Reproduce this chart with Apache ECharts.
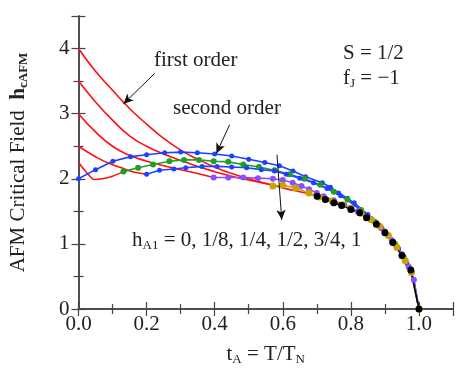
<!DOCTYPE html>
<html><head><meta charset="utf-8">
<script src="https://cdn.jsdelivr.net/npm/echarts@6/dist/echarts.min.js"></script>
<style>html,body{margin:0;padding:0;background:#fff}#c{width:457px;height:381px}</style>
</head><body><div id="c"></div>
<script>
// second-order branches (t_A, h_cAFM), lines with markers
const h0Blue = [[0,2.0],[0.05,2.14],[0.101,2.27],[0.153,2.34],[0.2,2.37],[0.253,2.4],[0.3,2.41],[0.349,2.4],[0.4,2.38],[0.45,2.35],[0.5,2.3],[0.547,2.25],[0.59,2.2],[0.63,2.12],[0.667,2.03],[0.716,1.94],[0.74,1.87],[0.764,1.78],[0.79,1.7],[0.81,1.63],[0.85,1.45],[0.875,1.33],[0.9,1.19],[0.925,1.04],[0.95,0.84],[0.975,0.62],[1.0,0]];
const h18Green = [[0.132,2.11],[0.175,2.17],[0.219,2.22],[0.267,2.27],[0.31,2.29],[0.354,2.29],[0.397,2.27],[0.44,2.26],[0.484,2.22],[0.53,2.18],[0.576,2.13],[0.62,2.07],[0.663,2.0],[0.71,1.91],[0.75,1.8],[0.79,1.68],[0.83,1.52],[0.87,1.34],[0.9,1.19],[0.93,1.0],[0.955,0.8],[0.978,0.58],[1.0,0]];
const h14Blue = [[0.2,2.07],[0.238,2.13],[0.28,2.15],[0.315,2.17],[0.363,2.19],[0.407,2.19],[0.45,2.18],[0.494,2.17],[0.537,2.14],[0.576,2.12],[0.61,2.07],[0.65,2.01],[0.69,1.94],[0.73,1.85],[0.77,1.74],[0.81,1.6],[0.85,1.43],[0.88,1.29],[0.91,1.13],[0.94,0.93],[0.965,0.7],[0.985,0.45],[1.0,0]];
const h12Purple = [[0.397,2.02],[0.44,2.02],[0.484,2.02],[0.527,2.01],[0.571,2.0],[0.6,1.98],[0.629,1.94],[0.655,1.89],[0.677,1.84],[0.7,1.78],[0.72,1.73],[0.75,1.67],[0.78,1.6],[0.82,1.5],[0.86,1.38],[0.89,1.24],[0.92,1.06],[0.95,0.84],[0.97,0.65],[0.985,0.45],[1.0,0]];
const h34Gold = [[0.571,1.89],[0.6,1.9],[0.638,1.86],[0.677,1.78],[0.706,1.72],[0.745,1.66],[0.775,1.6],[0.8,1.55],[0.83,1.47],[0.86,1.37],[0.885,1.27],[0.91,1.13],[0.935,0.95],[0.96,0.74],[0.978,0.56],[1.0,0]];
const h1Black = [[0.701,1.73],[0.725,1.68],[0.75,1.63],[0.773,1.59],[0.8,1.53],[0.826,1.48],[0.846,1.4],[0.875,1.3],[0.9,1.17],[0.923,1.02],[0.95,0.82],[0.976,0.6],[1.0,0]];
// first-order branches (red)
const r18 = [[0,2.25],[0.02,2.12],[0.045,1.99],[0.07,2.0],[0.1,2.04],[0.132,2.11]];
const r14 = [[0,2.5],[0.03,2.4],[0.06,2.31],[0.093,2.23],[0.13,2.16],[0.165,2.1],[0.2,2.07]];
const r12 = [[0,3.0],[0.05,2.72],[0.1,2.5],[0.15,2.36],[0.2,2.27],[0.25,2.2],[0.3,2.14],[0.35,2.08],[0.397,2.02]];
const r34 = [[0,3.5],[0.05,3.18],[0.1,2.9],[0.15,2.66],[0.2,2.5],[0.25,2.38],[0.3,2.28],[0.35,2.19],[0.4,2.11],[0.45,2.04],[0.5,1.98],[0.571,1.9]];
const r1 = [[0,4.0],[0.05,3.65],[0.1,3.36],[0.15,3.08],[0.2,2.84],[0.25,2.62],[0.3,2.44],[0.35,2.3],[0.4,2.18],[0.45,2.08],[0.5,2.0],[0.55,1.93],[0.6,1.86],[0.65,1.8],[0.7,1.74]];
const xTicks = [0,0.2,0.4,0.6,0.8,1.0];
const yTicks = [0,1,2,3,4];

const FF = 'Liberation Serif';
const FS = 21;
const AX = '#444';
const TX = '#222';
const chart = echarts.init(document.getElementById('c'));
function redSeries(d,sm){return {type:'line',data:d,smooth:sm,showSymbol:false,symbol:'none',lineStyle:{color:'#ff1010',width:1.6},z:2,silent:true};}
function ordSeries(d,color,size){return {type:'line',data:d,symbol:'circle',symbolSize:size,itemStyle:{color:color},lineStyle:{color:color,width:1.6},z:3,silent:true};}
const axisCommon = {
  axisLine:{show:true,lineStyle:{color:AX,width:1.5}},
  axisTick:{show:true,inside:true,length:7,lineStyle:{color:AX,width:1.2}},
  minorTick:{show:true,splitNumber:2,length:5,lineStyle:{color:AX,width:1.2}},
  splitLine:{show:false}
};
const arrowLine = (a,b)=>[{coord:a},{coord:b}];
const richN = {fontFamily:FF,fontSize:FS,color:TX};
const richS = {fontFamily:FF,fontSize:13,color:TX,padding:[11,0,0,0]};
chart.setOption({
  animation:false,
  grid:{left:73,right:4,top:16,bottom:72},
  xAxis:[
    Object.assign({type:'value',min:0,max:1.1,interval:0.2,position:'bottom',
      axisLabel:{color:TX,fontFamily:FF,fontSize:FS,margin:5,showMaxLabel:false,formatter:v=>xTicks.includes(+v.toFixed(1))?v.toFixed(1):''},
      name:'{n|t}{s|A}{n| = T/T}{s|N}',nameLocation:'middle',nameGap:33,
      nameTextStyle:{rich:{n:richN,s:richS}}
    },axisCommon),
    Object.assign({type:'value',min:0,max:1.1,interval:0.2,position:'top',axisLabel:{show:false}},axisCommon)
  ],
  yAxis:[
    Object.assign({type:'value',min:0,max:4.5,interval:1,position:'left',
      axisLabel:{color:TX,fontFamily:FF,fontSize:FS,margin:9,showMaxLabel:false,formatter:v=>yTicks.includes(v)?String(v):''},
      name:'{n|AFM Critical Field  }{b|h}{s|cAFM}',nameLocation:'middle',nameGap:48,nameRotate:90,
      nameTextStyle:{rich:{n:richN,b:{fontFamily:FF,fontSize:FS,fontWeight:'bold',color:TX},s:Object.assign({},richS,{fontWeight:'bold'})}}
    },axisCommon),
    Object.assign({type:'value',min:0,max:4.5,interval:1,position:'right',axisLabel:{show:false}},axisCommon)
  ],
  series:[
    redSeries(r1,0.5),redSeries(r34,0.5),redSeries(r12,0.5),redSeries(r14,0.4),redSeries(r18,0.2),
    ordSeries(h0Blue,'#2040ff',5),
    ordSeries(h18Green,'#20a020',6),
    ordSeries(h14Blue,'#2040ff',5),
    ordSeries(h12Purple,'#8a4dff',6),
    ordSeries(h34Gold,'#c9a100',7),
    Object.assign(ordSeries(h1Black,'#000',7),{
      markLine:{silent:true,symbol:['none','arrow'],symbolSize:[7,10],label:{show:false},
        lineStyle:{color:'#111',width:1,type:'solid'},
        data:[arrowLine([0.224,3.62],[0.132,3.15]),arrowLine([0.444,2.83],[0.405,2.39]),arrowLine([0.583,2.37],[0.597,1.37])]}
    })
  ],
  graphic:[
    {type:'text',left:154,top:50,style:{text:'first order',font:FS+'px "Liberation Serif"',fill:TX}},
    {type:'text',left:173,top:98,style:{text:'second order',font:FS+'px "Liberation Serif"',fill:TX}},
    {type:'text',left:343,top:43,style:{text:'S = 1/2',font:FS+'px "Liberation Serif"',fill:TX}},
    {type:'text',left:343,top:68,style:{rich:{n:{fontFamily:FF,fontSize:FS,fill:TX},s:{fontFamily:FF,fontSize:13,fill:TX,padding:[11,0,0,0]}},text:'{n|f}{s|J}{n| = \u22121}'}},
    {type:'text',left:132,top:230,style:{rich:{n:{fontFamily:FF,fontSize:FS,fill:TX},s:{fontFamily:FF,fontSize:13,fill:TX,padding:[11,0,0,0]}},text:'{n|h}{s|A1}{n| = 0, 1/8, 1/4, 1/2, 3/4, 1}'}}
  ]
});
</script></body></html>
